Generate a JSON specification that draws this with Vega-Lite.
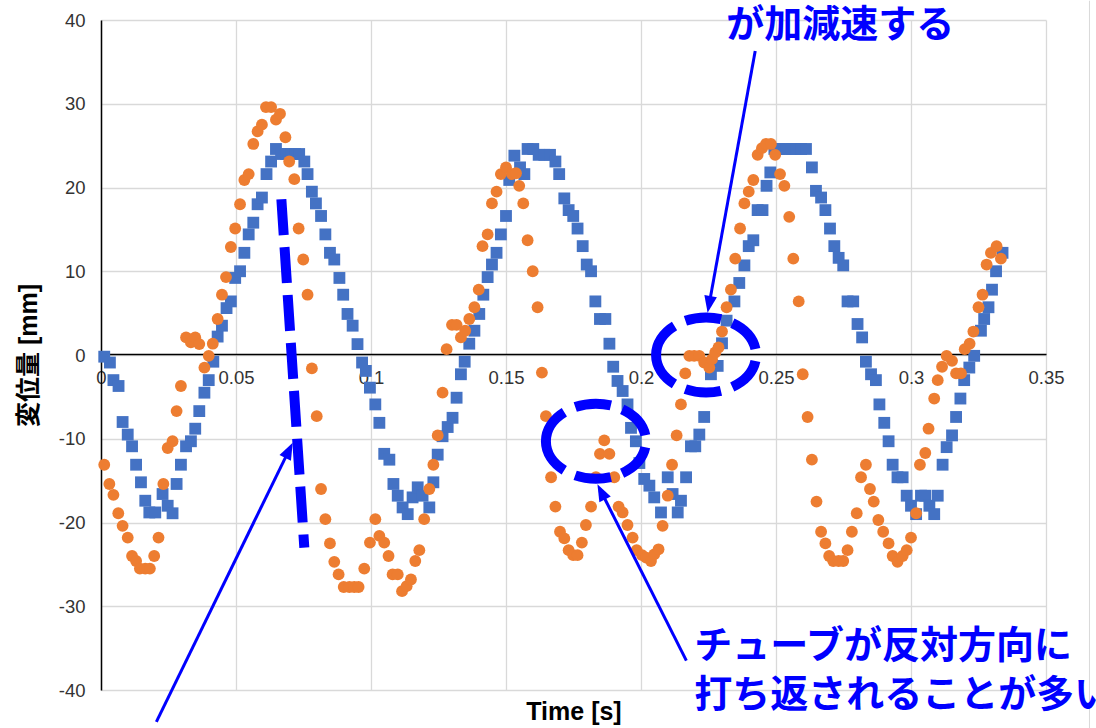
{
  "$schema": "https://vega.github.io/schema/vega-lite/v6.json",
  "width": 945,
  "height": 670,
  "autosize": {"type": "none"},
  "padding": {"left": 101, "top": 20, "right": 50, "bottom": 38},
  "background": "white",
  "config": {
    "view": {"stroke": null},
    "font": "Liberation Sans",
    "axis": {"labelFont": "Liberation Sans", "titleFont": "Liberation Sans, Noto Sans CJK JP"}
  },
  "datasets": {
    "blue": [
      {"t":0.0012,"v":-0.2},{"t":0.0033,"v":-0.9},{"t":0.0046,"v":-3.0},{"t":0.0065,"v":-3.7},{"t":0.0080,"v":-8.0},{"t":0.0099,"v":-9.5},{"t":0.0115,"v":-10.9},{"t":0.0130,"v":-13.1},{"t":0.0148,"v":-15.2},{"t":0.0164,"v":-17.4},{"t":0.0179,"v":-18.8},{"t":0.0201,"v":-18.8},{"t":0.0228,"v":-16.6},{"t":0.0247,"v":-18.0},{"t":0.0265,"v":-18.9},{"t":0.0280,"v":-15.4},{"t":0.0296,"v":-13.1},{"t":0.0315,"v":-10.9},{"t":0.0333,"v":-10.3},{"t":0.0349,"v":-8.8},{"t":0.0364,"v":-6.7},{"t":0.0383,"v":-4.5},{"t":0.0399,"v":-3.0},{"t":0.0416,"v":-0.8},{"t":0.0432,"v":2.2},{"t":0.0448,"v":3.5},{"t":0.0465,"v":5.6},{"t":0.0481,"v":6.4},{"t":0.0497,"v":9.2},{"t":0.0515,"v":10.0},{"t":0.0531,"v":12.2},{"t":0.0547,"v":14.4},{"t":0.0564,"v":15.8},{"t":0.0580,"v":18.0},{"t":0.0596,"v":18.8},{"t":0.0613,"v":21.6},{"t":0.0630,"v":23.1},{"t":0.0648,"v":24.6},{"t":0.0667,"v":24.0},{"t":0.0685,"v":24.0},{"t":0.0704,"v":24.0},{"t":0.0719,"v":24.0},{"t":0.0734,"v":24.0},{"t":0.0753,"v":23.1},{"t":0.0765,"v":21.6},{"t":0.0781,"v":19.5},{"t":0.0796,"v":18.1},{"t":0.0815,"v":16.6},{"t":0.0831,"v":14.4},{"t":0.0848,"v":12.2},{"t":0.0864,"v":11.4},{"t":0.0883,"v":9.2},{"t":0.0897,"v":7.2},{"t":0.0913,"v":4.9},{"t":0.0932,"v":3.5},{"t":0.0950,"v":1.3},{"t":0.0967,"v":-0.9},{"t":0.0981,"v":-1.9},{"t":0.0996,"v":-3.9},{"t":0.1016,"v":-5.9},{"t":0.1031,"v":-8.1},{"t":0.1049,"v":-11.8},{"t":0.1068,"v":-12.5},{"t":0.1083,"v":-15.4},{"t":0.1099,"v":-16.8},{"t":0.1117,"v":-18.2},{"t":0.1136,"v":-19.0},{"t":0.1154,"v":-17.0},{"t":0.1173,"v":-15.8},{"t":0.1191,"v":-16.8},{"t":0.1216,"v":-18.2},{"t":0.1231,"v":-15.2},{"t":0.1247,"v":-11.9},{"t":0.1265,"v":-9.7},{"t":0.1284,"v":-8.6},{"t":0.1302,"v":-7.5},{"t":0.1317,"v":-5.1},{"t":0.1333,"v":-2.3},{"t":0.1347,"v":-0.8},{"t":0.1364,"v":1.35},{"t":0.1383,"v":2.9},{"t":0.1401,"v":4.9},{"t":0.1416,"v":7.2},{"t":0.1432,"v":9.3},{"t":0.1448,"v":10.8},{"t":0.1465,"v":12.2},{"t":0.1481,"v":14.4},{"t":0.1500,"v":16.6},{"t":0.1512,"v":20.9},{"t":0.1531,"v":23.8},{"t":0.1552,"v":22.4},{"t":0.1568,"v":21.6},{"t":0.1580,"v":24.6},{"t":0.1601,"v":24.6},{"t":0.1621,"v":23.9},{"t":0.1642,"v":23.9},{"t":0.1663,"v":23.9},{"t":0.1683,"v":23.1},{"t":0.1697,"v":21.6},{"t":0.1716,"v":18.7},{"t":0.1732,"v":17.3},{"t":0.1749,"v":16.6},{"t":0.1765,"v":15.1},{"t":0.1784,"v":13.0},{"t":0.1799,"v":10.8},{"t":0.1815,"v":10.0},{"t":0.1831,"v":6.4},{"t":0.1848,"v":4.3},{"t":0.1868,"v":4.3},{"t":0.1883,"v":1.35},{"t":0.1897,"v":-1.4},{"t":0.1913,"v":-3.1},{"t":0.1932,"v":-4.3},{"t":0.1950,"v":-5.9},{"t":0.1963,"v":-8.7},{"t":0.1981,"v":-10.3},{"t":0.1994,"v":-12.9},{"t":0.2012,"v":-14.8},{"t":0.2031,"v":-15.6},{"t":0.2049,"v":-17.0},{"t":0.2074,"v":-18.8},{"t":0.2099,"v":-14.6},{"t":0.2117,"v":-16.6},{"t":0.2136,"v":-18.8},{"t":0.2148,"v":-17.4},{"t":0.2167,"v":-14.6},{"t":0.2185,"v":-10.9},{"t":0.2201,"v":-10.9},{"t":0.2216,"v":-9.5},{"t":0.2234,"v":-7.4},{"t":0.2259,"v":-2.3},{"t":0.2284,"v":-1.3},{"t":0.2300,"v":1.4},{"t":0.2317,"v":4.1},{"t":0.2346,"v":6.4},{"t":0.2364,"v":8.6},{"t":0.2383,"v":10.7},{"t":0.2399,"v":13.0},{"t":0.2416,"v":13.7},{"t":0.2432,"v":17.3},{"t":0.2450,"v":17.3},{"t":0.2465,"v":20.2},{"t":0.2479,"v":21.8},{"t":0.2494,"v":24.6},{"t":0.2512,"v":24.6},{"t":0.2537,"v":24.6},{"t":0.2556,"v":24.6},{"t":0.2574,"v":24.6},{"t":0.2593,"v":24.6},{"t":0.2611,"v":24.6},{"t":0.2633,"v":22.4},{"t":0.2648,"v":19.6},{"t":0.2667,"v":18.8},{"t":0.2683,"v":17.3},{"t":0.2700,"v":15.1},{"t":0.2716,"v":13.0},{"t":0.2732,"v":11.6},{"t":0.2749,"v":10.7},{"t":0.2765,"v":6.4},{"t":0.2786,"v":6.4},{"t":0.2802,"v":3.7},{"t":0.2819,"v":2.1},{"t":0.2833,"v":-0.8},{"t":0.2852,"v":-2.3},{"t":0.2870,"v":-3.0},{"t":0.2883,"v":-5.9},{"t":0.2901,"v":-8.1},{"t":0.2917,"v":-10.3},{"t":0.2932,"v":-13.1},{"t":0.2950,"v":-14.6},{"t":0.2969,"v":-14.6},{"t":0.2984,"v":-16.8},{"t":0.3000,"v":-18.0},{"t":0.3019,"v":-19.0},{"t":0.3037,"v":-16.8},{"t":0.3053,"v":-16.8},{"t":0.3068,"v":-18.0},{"t":0.3086,"v":-19.0},{"t":0.3099,"v":-16.8},{"t":0.3117,"v":-13.1},{"t":0.3132,"v":-11.0},{"t":0.3152,"v":-9.6},{"t":0.3167,"v":-7.4},{"t":0.3183,"v":-5.2},{"t":0.3197,"v":-3.0},{"t":0.3216,"v":-1.5},{"t":0.3234,"v":-0.1},{"t":0.3259,"v":2.9},{"t":0.3271,"v":4.3},{"t":0.3287,"v":5.7},{"t":0.3300,"v":7.8},{"t":0.3315,"v":10.0},{"t":0.3339,"v":12.2}
    ],
    "orange": [
      {"t":0.0012,"v":-13.1},{"t":0.0031,"v":-15.4},{"t":0.0046,"v":-16.7},{"t":0.0064,"v":-18.9},{"t":0.0080,"v":-20.4},{"t":0.0099,"v":-21.8},{"t":0.0115,"v":-24.0},{"t":0.0130,"v":-24.6},{"t":0.0144,"v":-25.5},{"t":0.0164,"v":-25.5},{"t":0.0181,"v":-25.5},{"t":0.0197,"v":-24.0},{"t":0.0213,"v":-21.8},{"t":0.0231,"v":-15.4},{"t":0.0247,"v":-11.1},{"t":0.0265,"v":-10.3},{"t":0.0280,"v":-6.7},{"t":0.0296,"v":-3.7},{"t":0.0315,"v":2.1},{"t":0.0333,"v":1.5},{"t":0.0349,"v":2.1},{"t":0.0364,"v":1.3},{"t":0.0383,"v":-1.5},{"t":0.0399,"v":-0.1},{"t":0.0414,"v":1.35},{"t":0.0432,"v":4.3},{"t":0.0448,"v":7.2},{"t":0.0463,"v":9.3},{"t":0.0481,"v":12.9},{"t":0.0497,"v":15.1},{"t":0.0515,"v":18.0},{"t":0.0531,"v":20.9},{"t":0.0547,"v":21.6},{"t":0.0564,"v":25.2},{"t":0.0580,"v":26.7},{"t":0.0596,"v":27.5},{"t":0.0611,"v":29.6},{"t":0.0630,"v":29.6},{"t":0.0648,"v":28.1},{"t":0.0663,"v":28.8},{"t":0.0683,"v":26.0},{"t":0.0697,"v":23.1},{"t":0.0716,"v":21.0},{"t":0.0732,"v":15.1},{"t":0.0749,"v":11.4},{"t":0.0765,"v":7.2},{"t":0.0781,"v":-1.6},{"t":0.0799,"v":-7.3},{"t":0.0815,"v":-16.0},{"t":0.0831,"v":-19.6},{"t":0.0848,"v":-22.5},{"t":0.0864,"v":-24.7},{"t":0.0880,"v":-26.2},{"t":0.0899,"v":-27.7},{"t":0.0920,"v":-27.7},{"t":0.0938,"v":-27.7},{"t":0.0954,"v":-27.7},{"t":0.0975,"v":-25.5},{"t":0.0996,"v":-22.4},{"t":0.1016,"v":-19.6},{"t":0.1031,"v":-21.6},{"t":0.1049,"v":-22.4},{"t":0.1065,"v":-24.0},{"t":0.1080,"v":-26.2},{"t":0.1099,"v":-26.2},{"t":0.1115,"v":-28.2},{"t":0.1132,"v":-27.6},{"t":0.1148,"v":-26.8},{"t":0.1164,"v":-24.6},{"t":0.1179,"v":-23.3},{"t":0.1197,"v":-19.6},{"t":0.1216,"v":-16.0},{"t":0.1231,"v":-13.1},{"t":0.1247,"v":-9.6},{"t":0.1265,"v":-4.5},{"t":0.1280,"v":0.7},{"t":0.1300,"v":3.6},{"t":0.1317,"v":3.6},{"t":0.1333,"v":2.1},{"t":0.1349,"v":2.9},{"t":0.1364,"v":4.3},{"t":0.1383,"v":5.7},{"t":0.1399,"v":7.8},{"t":0.1413,"v":13.0},{"t":0.1432,"v":14.4},{"t":0.1448,"v":18.1},{"t":0.1465,"v":19.5},{"t":0.1481,"v":21.6},{"t":0.1500,"v":22.4},{"t":0.1522,"v":21.6},{"t":0.1537,"v":21.7},{"t":0.1549,"v":20.2},{"t":0.1564,"v":18.1},{"t":0.1580,"v":13.7},{"t":0.1599,"v":10.0},{"t":0.1617,"v":5.7},{"t":0.1633,"v":-2.1},{"t":0.1648,"v":-7.3},{"t":0.1667,"v":-14.6},{"t":0.1683,"v":-18.1},{"t":0.1700,"v":-21.1},{"t":0.1716,"v":-21.9},{"t":0.1732,"v":-23.3},{"t":0.1749,"v":-23.9},{"t":0.1765,"v":-23.9},{"t":0.1781,"v":-22.4},{"t":0.1796,"v":-20.3},{"t":0.1815,"v":-18.1},{"t":0.1833,"v":-14.6},{"t":0.1848,"v":-11.8},{"t":0.1864,"v":-10.2},{"t":0.1883,"v":-11.8},{"t":0.1901,"v":-14.6},{"t":0.1917,"v":-18.1},{"t":0.1932,"v":-18.8},{"t":0.1950,"v":-20.3},{"t":0.1969,"v":-21.8},{"t":0.1984,"v":-23.3},{"t":0.2004,"v":-23.9},{"t":0.2019,"v":-24.2},{"t":0.2037,"v":-24.6},{"t":0.2049,"v":-23.8},{"t":0.2065,"v":-23.2},{"t":0.2080,"v":-20.4},{"t":0.2099,"v":-16.8},{"t":0.2115,"v":-13.1},{"t":0.2132,"v":-9.6},{"t":0.2148,"v":-5.9},{"t":0.2164,"v":-2.2},{"t":0.2179,"v":-0.1},{"t":0.2197,"v":-0.1},{"t":0.2216,"v":-0.1},{"t":0.2234,"v":-0.9},{"t":0.2253,"v":-1.5},{"t":0.2263,"v":-0.5},{"t":0.2275,"v":0.3},{"t":0.2287,"v":0.9},{"t":0.2300,"v":2.8},{"t":0.2317,"v":5.7},{"t":0.2333,"v":7.8},{"t":0.2349,"v":11.5},{"t":0.2367,"v":15.1},{"t":0.2383,"v":18.1},{"t":0.2399,"v":19.5},{"t":0.2416,"v":20.9},{"t":0.2432,"v":23.9},{"t":0.2448,"v":24.7},{"t":0.2463,"v":25.2},{"t":0.2481,"v":25.2},{"t":0.2497,"v":23.9},{"t":0.2515,"v":21.6},{"t":0.2531,"v":20.2},{"t":0.2549,"v":16.5},{"t":0.2564,"v":11.5},{"t":0.2584,"v":6.4},{"t":0.2599,"v":-2.3},{"t":0.2617,"v":-7.4},{"t":0.2633,"v":-12.5},{"t":0.2650,"v":-17.5},{"t":0.2667,"v":-21.1},{"t":0.2683,"v":-22.5},{"t":0.2697,"v":-24.0},{"t":0.2712,"v":-24.6},{"t":0.2732,"v":-24.6},{"t":0.2749,"v":-24.6},{"t":0.2765,"v":-23.3},{"t":0.2781,"v":-21.1},{"t":0.2799,"v":-18.9},{"t":0.2815,"v":-14.6},{"t":0.2833,"v":-13.1},{"t":0.2848,"v":-16.0},{"t":0.2862,"v":-17.5},{"t":0.2879,"v":-19.7},{"t":0.2897,"v":-21.1},{"t":0.2917,"v":-22.5},{"t":0.2932,"v":-24.0},{"t":0.2950,"v":-24.7},{"t":0.2969,"v":-24.0},{"t":0.2984,"v":-23.3},{"t":0.3000,"v":-21.8},{"t":0.3019,"v":-18.9},{"t":0.3033,"v":-13.1},{"t":0.3053,"v":-11.7},{"t":0.3065,"v":-8.8},{"t":0.3086,"v":-5.2},{"t":0.3099,"v":-3.0},{"t":0.3115,"v":-1.4},{"t":0.3132,"v":-0.1},{"t":0.3152,"v":-0.7},{"t":0.3167,"v":-2.2},{"t":0.3185,"v":-2.2},{"t":0.3199,"v":0.7},{"t":0.3217,"v":1.35},{"t":0.3231,"v":2.8},{"t":0.3250,"v":5.7},{"t":0.3265,"v":7.2},{"t":0.3280,"v":10.8},{"t":0.3296,"v":12.2},{"t":0.3317,"v":13.0},{"t":0.3333,"v":11.5}
    ],
    "dash": [{"t":0.0668,"v":18.6,"t2":0.0753,"v2":-23.0}],
    "ellipses": [{"t":0.1833,"v":-10.3},{"t":0.2241,"v":0}],
    "shafts": [
      {"t":0.0205,"v":-43.8,"t2":0.0692,"v2":-11.65},
      {"t":0.2168,"v":-36.5,"t2":0.1857,"v2":-16.6},
      {"t":0.2423,"v":36.3,"t2":0.2254,"v2":6.34}
    ],
    "border": [{"t":0.3661,"v":42.3,"v2":-44.6}],
    "notes": [
      {"t":0.2316,"v":37.97,"label":"が加減速する"},
      {"t":0.2197,"v":-36.2,"label":"チューブが反対方向に"},
      {"t":0.2197,"v":-42.0,"label":"打ち返されることが多い"}
    ]
  },
  "layer": [
    {
      "data": {"name": "blue"},
      "mark": {"type": "point", "shape": "square", "filled": true, "size": 140, "color": "#4472C4", "opacity": 1},
      "encoding": {
        "x": {
          "field": "t", "type": "quantitative",
          "scale": {"domain": [0, 0.35], "nice": false, "zero": false},
          "axis": {
            "title": "Time [s]", "values": [0, 0.05, 0.1, 0.15, 0.2, 0.25, 0.3, 0.35], "labelExpr": "'' + datum.value",
            "offset": -336, "domainColor": "#000000", "domainWidth": 1.5, "ticks": false,
            "labelPadding": 14, "labelFontSize": 18.5, "labelColor": "#333333", "labelFlush": false, "labelOverlap": false,
            "grid": true, "gridColor": "#d9d9d9", "gridWidth": 1.3,
            "titleFontSize": 25, "titleFontWeight": "bold", "titleColor": "#000000",
            "titleY": 365, "titleBaseline": "alphabetic"
          }
        },
        "y": {
          "field": "v", "type": "quantitative",
          "scale": {"domain": [-40, 40], "nice": false, "zero": false},
          "axis": {
            "title": "変位量 [mm]", "values": [-40, -30, -20, -10, 0, 10, 20, 30, 40], "labelExpr": "'' + datum.value",
            "domainColor": "#000000", "domainWidth": 1.5, "ticks": false,
            "labelPadding": 16, "labelFontSize": 18.5, "labelColor": "#333333",
            "grid": true, "gridColor": "#d9d9d9", "gridWidth": 1.3,
            "titleFontSize": 25, "titleFontWeight": "bold", "titleColor": "#000000",
            "titleX": -73, "titleBaseline": "middle"
          }
        }
      }
    },
    {
      "data": {"name": "border"},
      "mark": {"type": "rule", "color": "#d9d9d9", "strokeWidth": 1},
      "encoding": {
        "x": {"field": "t", "type": "quantitative"},
        "y": {"field": "v", "type": "quantitative"},
        "y2": {"field": "v2"}
      }
    },
    {
      "data": {"name": "orange"},
      "mark": {"type": "point", "shape": "circle", "filled": true, "size": 140, "color": "#ED7D31", "opacity": 1},
      "encoding": {
        "x": {"field": "t", "type": "quantitative"},
        "y": {"field": "v", "type": "quantitative"}
      }
    },
    {
      "data": {"name": "dash"},
      "mark": {"type": "rule", "color": "#0000FF", "strokeWidth": 10, "strokeDash": [36, 12], "strokeCap": "butt"},
      "encoding": {
        "x": {"field": "t", "type": "quantitative"},
        "y": {"field": "v", "type": "quantitative"},
        "x2": {"field": "t2"},
        "y2": {"field": "v2"}
      }
    },
    {
      "data": {"name": "ellipses"},
      "mark": {"type": "point", "shape": "M -1 0 A 1 0.75 0 1 1 1 0 A 1 0.75 0 1 1 -1 0 Z", "filled": false, "size": 10000, "stroke": "#0000FF", "strokeWidth": 10, "strokeDash": [36, 12], "opacity": 1},
      "encoding": {
        "x": {"field": "t", "type": "quantitative"},
        "y": {"field": "v", "type": "quantitative"}
      }
    },
    {
      "data": {"name": "shafts"},
      "mark": {"type": "rule", "color": "#0000FF", "strokeWidth": 3},
      "encoding": {
        "x": {"field": "t", "type": "quantitative"},
        "y": {"field": "v", "type": "quantitative"},
        "x2": {"field": "t2"},
        "y2": {"field": "v2"}
      }
    },
    {
      "data": {"values": [{"t": 0.0692, "v": -11.65}]},
      "mark": {"type": "point", "shape": "M 0 -1.3 L -0.75 0.7 L 0.75 0.7 Z", "size": 289, "filled": true, "color": "#0000FF", "opacity": 1, "angle": 26},
      "encoding": {
        "x": {"field": "t", "type": "quantitative"},
        "y": {"field": "v", "type": "quantitative"}
      }
    },
    {
      "data": {"values": [{"t": 0.1857, "v": -16.6}]},
      "mark": {"type": "point", "shape": "M 0 -1.3 L -0.75 0.7 L 0.75 0.7 Z", "size": 289, "filled": true, "color": "#0000FF", "opacity": 1, "angle": 333.3},
      "encoding": {
        "x": {"field": "t", "type": "quantitative"},
        "y": {"field": "v", "type": "quantitative"}
      }
    },
    {
      "data": {"values": [{"t": 0.2254, "v": 6.34}]},
      "mark": {"type": "point", "shape": "M 0 -1.3 L -0.75 0.7 L 0.75 0.7 Z", "size": 289, "filled": true, "color": "#0000FF", "opacity": 1, "angle": 190.3},
      "encoding": {
        "x": {"field": "t", "type": "quantitative"},
        "y": {"field": "v", "type": "quantitative"}
      }
    },
    {
      "data": {"name": "notes"},
      "mark": {"type": "text", "align": "left", "baseline": "alphabetic", "font": "Noto Sans CJK JP", "fontWeight": "bold", "fontSize": 38, "color": "#0000FF"},
      "encoding": {
        "x": {"field": "t", "type": "quantitative"},
        "y": {"field": "v", "type": "quantitative"},
        "text": {"field": "label"}
      }
    }
  ]
}
